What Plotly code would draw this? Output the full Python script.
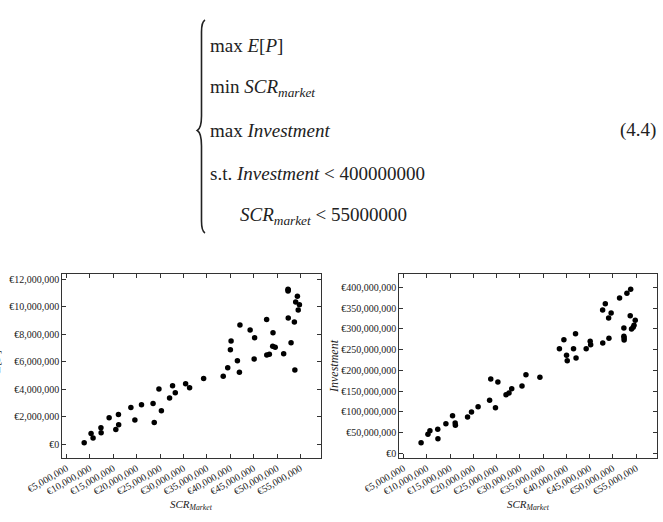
import plotly.graph_objects as go

# ---------------- data ----------------
scr_market = [8.78e6, 10.25e6, 10.68e6, 12.36e6, 12.40e6, 14.11e6, 15.54e6, 16.10e6, 16.15e6, 18.76e6,
              19.61e6, 21.03e6, 23.50e6, 23.75e6, 24.76e6, 25.28e6, 27.03e6, 27.67e6, 28.25e6, 30.46e6,
              31.31e6, 34.31e6, 38.50e6, 39.46e6, 40.03e6, 40.18e6, 41.53e6, 41.96e6, 42.07e6, 44.25e6,
              45.11e6, 45.21e6, 47.78e6, 47.81e6, 48.36e6, 49.07e6, 49.14e6, 49.61e6, 51.42e6, 52.35e6,
              52.35e6, 52.40e6, 52.40e6, 53.00e6, 53.71e6, 53.81e6, 53.99e6, 54.35e6, 54.53e6, 54.79e6]

expected_profit = [0.11e6, 0.79e6, 0.45e6, 1.20e6, 0.84e6, 1.93e6, 1.08e6, 2.17e6, 1.42e6, 2.68e6,
                   1.76e6, 2.87e6, 2.97e6, 1.59e6, 4.01e6, 2.44e6, 3.36e6, 4.25e6, 3.75e6, 4.40e6,
                   4.11e6, 4.79e6, 4.94e6, 5.56e6, 6.87e6, 7.51e6, 6.07e6, 5.23e6, 8.67e6, 8.31e6,
                   6.20e6, 7.75e6, 9.08e6, 6.49e6, 6.54e6, 7.12e6, 8.11e6, 7.05e6, 6.58e6, 11.27e6,
                   11.14e6, 9.18e6, 11.22e6, 7.38e6, 8.89e6, 5.40e6, 10.34e6, 10.76e6, 9.76e6, 10.15e6]

investment = [24.9e6, 45.2e6, 54.0e6, 57.3e6, 34.6e6, 70.9e6, 90.2e6, 72.6e6, 67.0e6, 87.1e6,
              99.2e6, 112.0e6, 127.5e6, 179.0e6, 109.6e6, 171.8e6, 141.1e6, 145.2e6, 155.6e6, 162.1e6,
              189.4e6, 183.2e6, 252.4e6, 274.1e6, 236.4e6, 223.3e6, 252.4e6, 288.7e6, 229.9e6, 252.4e6,
              270.3e6, 262.0e6, 346.0e6, 266.2e6, 361.2e6, 326.6e6, 277.5e6, 338.7e6, 375.0e6, 302.4e6,
              282.4e6, 278.2e6, 273.4e6, 386.4e6, 332.2e6, 396.1e6, 300.0e6, 304.1e6, 309.0e6, 321.1e6]

equation_lines = [
    "max <i>E</i>[<i>P</i>]",
    "min <i>SCR</i><sub><i>market</i></sub>",
    "max <i>Investment</i>",
    "s.t. <i>Investment</i> &lt; 400000000",
    "<i>SCR</i><sub><i>market</i></sub> &lt; 55000000",
]
equation_number = "(4.4)"

W, H = 663, 522
SERIF = "Liberation Serif, Times New Roman, serif"
INK = "#222222"


def px(x):
    return x / W


def py(y):
    return 1 - y / H


fig = go.Figure()
fig.add_trace(go.Scatter(x=scr_market, y=expected_profit, mode="markers",
                         marker=dict(size=5.5, color="black"), xaxis="x", yaxis="y",
                         showlegend=False))
fig.add_trace(go.Scatter(x=scr_market, y=investment, mode="markers",
                         marker=dict(size=5.5, color="black"), xaxis="x2", yaxis="y2",
                         showlegend=False))

axis_common = dict(showgrid=False, zeroline=False, showline=True, linecolor="#333333",
                   linewidth=1, mirror="ticks", ticks="inside", ticklen=4, tickwidth=1,
                   tickcolor="#333333", tickfont=dict(family=SERIF, size=10, color=INK),
                   tickprefix="€", tickformat=",d", automargin=False)

xcommon = dict(axis_common, range=[4.1e6, 59.4e6], tick0=0, dtick=5e6, tickangle=-30)

fig.update_layout(
    template="none",
    width=W, height=H,
    margin=dict(l=0, r=0, t=0, b=0, autoexpand=False),
    paper_bgcolor="white", plot_bgcolor="white",
    xaxis=dict(xcommon, domain=[px(62.3), px(321)], anchor="y"),
    yaxis=dict(axis_common, domain=[py(458), py(274)], anchor="x",
               range=[-1.0e6, 12.38e6], tick0=0, dtick=2e6),
    xaxis2=dict(xcommon, domain=[px(399.3), px(656.7)], anchor="y2"),
    yaxis2=dict(axis_common, domain=[py(458), py(274)], anchor="x2",
                range=[-12e6, 433e6], tick0=0, dtick=50e6),
)

annotations = []
# axis titles
for cx in (191.5, 528):
    annotations.append(dict(x=px(cx), y=py(505), xref="paper", yref="paper",
                            text="<i>SCR</i><sub><i>Market</i></sub>", showarrow=False,
                            font=dict(family=SERIF, size=11, color=INK),
                            xanchor="center", yanchor="middle"))
annotations.append(dict(x=px(334), y=py(366), xref="paper", yref="paper",
                        text="<i>Investment</i>", showarrow=False, textangle=-90,
                        font=dict(family=SERIF, size=12, color=INK),
                        xanchor="center", yanchor="middle"))
annotations.append(dict(x=px(-4), y=py(362), xref="paper", yref="paper",
                        text="<i>E</i>[<i>P</i>]", showarrow=False, textangle=-90,
                        font=dict(family=SERIF, size=12, color=INK),
                        xanchor="center", yanchor="middle"))

# equation block
eq_rows = [(208, 46), (208, 88), (208, 130), (208, 173), (238, 216)]
for (ex, ey), txt in zip(eq_rows, equation_lines):
    annotations.append(dict(x=px(ex), y=py(ey), xref="paper", yref="paper", text=txt,
                            showarrow=False, font=dict(family=SERIF, size=19, color=INK),
                            xanchor="left", yanchor="middle"))
annotations.append(dict(x=px(658), y=py(130), xref="paper", yref="paper", text=equation_number,
                        showarrow=False, font=dict(family=SERIF, size=19, color=INK),
                        xanchor="right", yanchor="middle"))
fig.update_layout(annotations=annotations)

# curly brace
brace = (f"M {px(205)},{py(20)} Q {px(201.5)},{py(22)} {px(201.5)},{py(32)} "
         f"L {px(201.5)},{py(116)} Q {px(201.5)},{py(128)} {px(197.3)},{py(130.5)} "
         f"Q {px(201.5)},{py(133)} {px(201.5)},{py(146)} "
         f"L {px(201.5)},{py(221)} Q {px(201.5)},{py(231)} {px(205)},{py(233)}")
fig.add_shape(type="path", path=brace, xref="paper", yref="paper",
              line=dict(color=INK, width=1.6))

fig.write_html("out.html")
